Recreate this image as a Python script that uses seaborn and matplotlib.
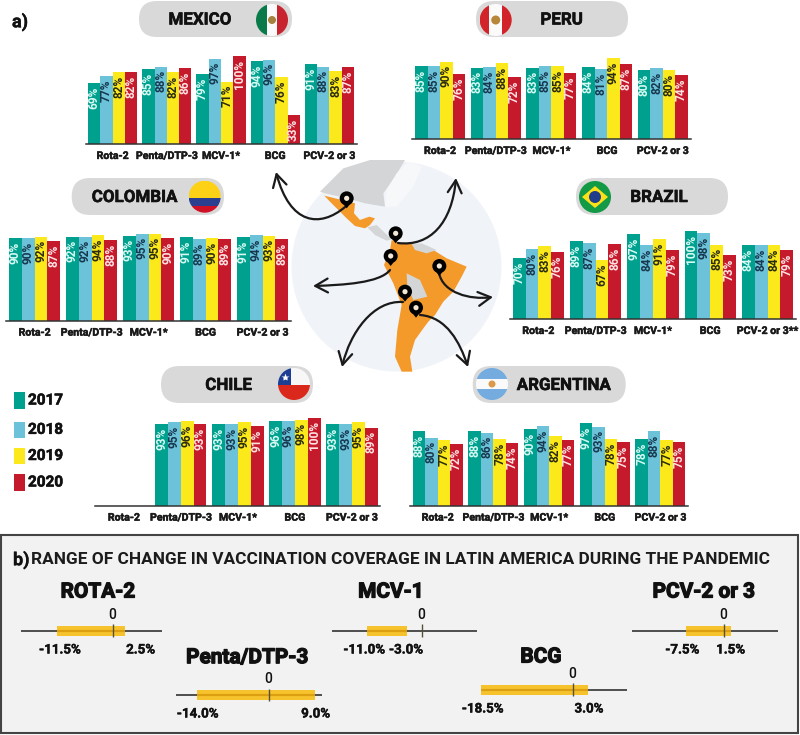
import numpy as np
import pandas as pd
import matplotlib
matplotlib.use("Agg")
import matplotlib.pyplot as plt
import matplotlib.patheffects as pe
from matplotlib.patches import Circle, FancyArrowPatch, FancyBboxPatch, Polygon, Rectangle
from matplotlib.path import Path
import seaborn as sns

W, H = 800, 735

vaccines = ["Rota-2", "Penta/DTP-3", "MCV-1*", "BCG", "PCV-2 or 3"]
vaccines_brazil = ["Rota-2", "Penta/DTP-3", "MCV-1*", "BCG", "PCV-2 or 3**"]
years = ["2017", "2018", "2019", "2020"]
colors = ["#00a08f", "#6cc3d9", "#fbe91b", "#c41a2c"]
label_colors = ["#d8fbf3", "#17384f", "#2b2b10", "#ffe3e3"]

# rows are years, columns are vaccines
mexico = [[69, 85, 79, 94, 91], [77, 88, 97, 96, 88], [82, 82, 71, 76, 83], [82, 86, 100, 33, 87]]
peru = [[85, 83, 83, 84, 80], [85, 84, 85, 81, 82], [90, 88, 85, 94, 80], [76, 72, 77, 87, 74]]
colombia = [[90, 92, 93, 91, 91], [90, 92, 95, 89, 94], [92, 94, 95, 90, 93], [87, 88, 90, 89, 89]]
brazil = [[70, 89, 97, 100, 84], [80, 87, 84, 98, 84], [83, 67, 91, 85, 84], [76, 86, 79, 73, 79]]
chile = [[np.nan, 93, 93, 96, 93], [np.nan, 95, 93, 96, 93], [np.nan, 96, 95, 98, 95], [np.nan, 93, 91, 100, 89]]
argentina = [[88, 88, 90, 97, 78], [80, 86, 94, 93, 88], [77, 78, 82, 78, 77], [72, 74, 77, 75, 75]]

range_names = ["ROTA-2", "Penta/DTP-3", "MCV-1", "BCG", "PCV-2 or 3"]
range_low = [-11.5, -14.0, -11.0, -18.5, -7.5]
range_high = [2.5, 9.0, -3.0, 3.0, 1.5]

BASE = "Roboto"
NARROW = ["Liberation Sans Narrow", "Roboto"]

fig = plt.figure(figsize=(W / 100, H / 100), dpi=100, facecolor="white")


def px_axes(left, top, right, bottom, **kw):
    return fig.add_axes([left / W, 1 - bottom / H, (right - left) / W, (bottom - top) / H], **kw)


# whole-figure axes in pixels for the decoration
bg = fig.add_axes([0, 0, 1, 1], zorder=0)
bg.set_xlim(0, W)
bg.set_ylim(H, 0)
bg.axis("off")


def txt(x, y, s, size, weight="bold", family=BASE, color="#111111", ha="center", stroke=0, **kw):
    t = bg.text(x, y, s, fontsize=size, fontweight=weight, family=family, color=color,
                ha=ha, va="center", zorder=8, **kw)
    if stroke:
        t.set_path_effects([pe.withStroke(linewidth=stroke, foreground=color)])
    return t


def z(pts):
    return [(x / 3 + 280, y / 3 + 150) for x, y in pts]


####map
bg.add_patch(Circle((396.5, 266.5), 105, fc="#f0f3f8", ec="none", zorder=1))
north = Polygon(z([(120, 125), (190, 55), (270, 30), (375, 30), (345, 80), (310, 130), (315, 170),
                   (255, 160), (220, 150), (180, 140), (135, 130)]), fc="#d4d5d6", ec="none", zorder=2)
bg.add_patch(north)
bg.add_patch(Polygon(z([(320, 120), (350, 70), (385, 35), (425, 50), (400, 110), (350, 170), (315, 170)]),
                     fc="#f7f8fa", ec="none", zorder=2))
bg.add_patch(Polygon(z([(262, 232), (290, 225), (335, 268), (320, 272), (285, 255)]),
                     fc="#d4d5d6", ec="none", zorder=2))
orange = "#f39a2b"
bg.add_patch(Polygon(z([(133, 137), (165, 145), (185, 150), (225, 160), (222, 190), (240, 210), (268, 200),
                        (285, 205), (270, 225), (255, 235), (225, 228), (200, 205), (175, 180), (150, 155)]),
                     fc=orange, ec="none", zorder=3))
bg.add_patch(Polygon(z([(335, 270), (360, 280), (395, 280), (420, 285), (460, 300), (500, 325), (560, 350),
                        (545, 380), (520, 425), (490, 455), (465, 495), (445, 515), (430, 535), (405, 570),
                        (390, 620), (397, 665), (365, 665), (345, 620), (352, 540), (365, 465), (340, 400),
                        (312, 345), (330, 300)]), fc=orange, ec="none", zorder=3))
bg.add_patch(Polygon(z([(380, 370), (420, 390), (442, 440), (400, 450), (382, 410)]),
                     fc="#d4d5d6", ec="none", zorder=3))
bg.add_patch(Polygon(z([(395, 282), (425, 280), (470, 300), (440, 310), (405, 300)]),
                     fc="#d4d5d6", ec="none", zorder=3))

arrows = [[(345, 207), (320, 228), (290, 225), (276, 172)],
          [(398, 243), (430, 247), (452, 223), (456, 178)],
          [(390, 270), (380, 283), (343, 285), (313, 286)],
          [(439, 273), (443, 293), (470, 300), (493, 297)],
          [(403, 302), (373, 300), (350, 333), (342, 367)],
          [(420, 315), (447, 317), (460, 343), (468, 367)]]
for a in arrows:
    p = Path(a, [Path.MOVETO, Path.CURVE4, Path.CURVE4, Path.CURVE4])
    bg.add_patch(FancyArrowPatch(path=p, arrowstyle="->,head_length=9,head_width=5", lw=1.6,
                                 color="#1a1a1a", zorder=5))

pins = [(200, 145), (347, 250), (332, 318), (478, 348), (375, 425), (408, 473)]
for x, y in z(pins):
    bg.add_patch(Polygon([(x - 6, y + 2.5), (x + 6, y + 2.5), (x, y + 10)], fc="black", ec="none", zorder=6))
    bg.add_patch(Circle((x, y), 7, fc="black", ec="none", zorder=6))
    bg.add_patch(Circle((x, y), 2.6, fc="#f4e7d5", ec="none", zorder=7))


####country pills and flags
def pill(left, right, top, bottom):
    h = bottom - top
    bg.add_patch(FancyBboxPatch((left, top), right - left, h,
                                boxstyle=f"round,pad=0,rounding_size={h / 2}",
                                fc="#d9d9d9", ec="none", zorder=1))


def flag(cx, cy, parts, r=16):
    clip = Circle((cx, cy), r, transform=bg.transData)
    for kind, a, b, c in parts:
        if kind == "v":
            p = Rectangle((cx + a * r, cy - r), (b - a) * r, 2 * r, fc=c, ec="none", zorder=3)
        else:
            p = Rectangle((cx - r, cy + a * r), 2 * r, (b - a) * r, fc=c, ec="none", zorder=3)
        bg.add_patch(p)
        p.set_clip_path(clip)


pills = [("MEXICO", 139, 292, 1, 37, 200, 272, 20),
         ("PERU", 476, 628, 1, 37, 561.7, 495.7, 20),
         ("COLOMBIA", 71.7, 224, 178, 215, 134.7, 204.7, 196.7),
         ("BRAZIL", 576, 728, 178, 215, 659, 595, 197),
         ("CHILE", 161, 313, 366, 403, 228.7, 294, 384),
         ("ARGENTINA", 472.7, 625.7, 366, 403, 563.7, 492, 384)]
flags = {"MEXICO": [("v", -1, -.33, "#0b7a4b"), ("v", -.33, .33, "#fafafa"), ("v", .33, 1, "#c8242f")],
         "PERU": [("v", -1, -.4, "#d2232a"), ("v", -.4, .4, "#fafafa"), ("v", .4, 1, "#d2232a")],
         "COLOMBIA": [("h", -1, .1, "#fcd116"), ("h", .1, .55, "#2a3f8f"), ("h", .55, 1, "#ce1126")],
         "BRAZIL": [("h", -1, 1, "#129a46")],
         "CHILE": [("h", -1, .05, "#f7f7f7"), ("h", .05, 1, "#da291c")],
         "ARGENTINA": [("h", -1, -.33, "#74acdf"), ("h", -.33, .33, "#fafafa"), ("h", .33, 1, "#74acdf")]}
for name, l, r, t, b, tx, fx, fy in pills:
    pill(l, r, t, b)
    flag(fx, fy, flags[name])
    txt(tx, (t + b) / 2 + 1, name, 12.2, stroke=.4)
bg.add_patch(Circle((272, 20), 4, fc="#a5803f", ec="none", zorder=4))
bg.add_patch(Circle((495.7, 20), 4.5, fc="#b8863a", ec="none", zorder=4))
bg.add_patch(Polygon([(595 - 13, 197), (595, 197 - 11), (595 + 13, 197), (595, 197 + 11)],
                     fc="#fde118", ec="none", zorder=4))
bg.add_patch(Circle((595, 197), 6, fc="#1f3d8a", ec="none", zorder=5))
bg.add_patch(Circle((492, 384), 3.5, fc="#d99a4a", ec="none", zorder=4))
c_rect = Rectangle((278, 368), 13, 16.8, fc="#1c3f94", ec="none", zorder=4)
bg.add_patch(c_rect)
c_rect.set_clip_path(Circle((294, 384), 16, transform=bg.transData))
bg.plot([284.5], [377], marker="*", ms=6, color="white", mec="none", zorder=5)


####bar charts
def bars(rows, names, bar_left, bar_w, step, base, scale):
    df = pd.DataFrame(rows, index=years, columns=names).rename_axis("year").reset_index()
    df = df.melt(id_vars="year", var_name="vaccine", value_name="coverage")
    margin = (step - 4 * bar_w) / 2
    ax = px_axes(bar_left - margin, base - 105 * scale, bar_left - margin + 5 * step, base)
    ax.patch.set_alpha(0)
    sns.barplot(data=df, x="vaccine", y="coverage", hue="year", order=names, hue_order=years,
                palette=colors, saturation=1, width=4 * bar_w / step, gap=0, legend=False, ax=ax)
    ax.set_xlim(-.5, 4.5)
    ax.set_ylim(0, 105)
    for cont, c in zip(ax.containers, label_colors):
        labs = ax.bar_label(cont, fmt="%g%%", rotation=90, padding=-2.5, fontsize=8.6, fontweight="bold",
                            family=NARROW, color=c)
        for lab in labs:
            lab.set_va("top")
    sns.despine(ax=ax, left=True)
    ax.spines["bottom"].set_color("#333333")
    ax.spines["bottom"].set_linewidth(1.1)
    ax.set_xlabel("")
    ax.set_ylabel("")
    ax.set_yticks([])
    ax.tick_params(axis="x", length=0, pad=5)
    for lab in ax.get_xticklabels():
        lab.set_fontsize(7.6)
        lab.set_fontweight("bold")
        lab.set_family("Roboto")
        lab.set_color("#1a1a1a")
        lab.set_path_effects([pe.withStroke(linewidth=.35, foreground="#1a1a1a")])
    return ax


bars(mexico, vaccines, 88, 12.3, 54.2, 144, .88)
bars(peru, vaccines, 415, 12.5, 55.7, 139, .86)
bars(colombia, vaccines, 9, 12.8, 57, 320.7, .915)
bars(brazil, vaccines_brazil, 512.7, 12.8, 57.3, 319, .876)
bars(chile, vaccines, 98.3, 12.8, 57, 505.7, .878)
bars(argentina, vaccines, 412.7, 12.5, 55.7, 505.7, .85)

txt(20, 22, "a)", 13, stroke=.3)

# year key
for y0, y1, yr, c in zip([392, 421.7, 448, 474], [409, 438, 464, 491], years, colors):
    bg.add_patch(Rectangle((14, y0), 11, y1 - y0, fc=c, ec="none", zorder=3))
    txt(28, (y0 + y1) / 2, yr, 11, family=NARROW, ha="left", stroke=.4)

####panel b
bg.add_patch(Rectangle((1, 535), 797, 198, fc="#f2f2f2", ec="#444444", lw=1.5, zorder=1))
txt(13, 560, "b)", 13, ha="left", stroke=.2)
txt(31, 560, "RANGE OF CHANGE IN VACCINATION COVERAGE IN LATIN AMERICA DURING THE PANDEMIC", 12.42,
    ha="left", color="#1c1c1c")

# zero px, px per point, line ends, y, title x/y, zero label y, label y, low label x, high label x
range_layout = [(112.7, 4.87, 21, 162, 630.7, 98, 591, 615, 650, 60, 140.7),
                (269, 5.15, 176, 321.7, 695, 247.5, 656.7, 679, 714, 197.7, 315.7),
                (422.3, 5.0, 331.7, 477, 630.7, 391, 591, 615, 650, 364.3, 406),
                (572.7, 5.02, 481, 626.7, 689.7, 541, 656, 673.7, 709, 482.7, 589),
                (723.7, 5.08, 632.3, 777.7, 630.7, 704, 591, 615, 650, 682.3, 730.7)]
for name, lo, hi, lay in zip(range_names, range_low, range_high, range_layout):
    x0, s, left, right, y, tx, ty, zy, ly, lx, hx = lay
    ax = px_axes(left, y - 8, right, y + 8, zorder=3)
    ax.set_xlim((left - x0) / s, (right - x0) / s)
    ax.set_ylim(-1, 1)
    ax.axis("off")
    ax.hlines(0, *ax.get_xlim(), color="#333333", lw=1.2, zorder=1)
    ax.fill_betweenx([-.62, .62], lo, hi, color="#f6c32d", lw=0, zorder=2)
    ax.hlines(0, lo, hi, color="#dd9f12", lw=1.6, zorder=3)
    ax.vlines(0, -.8, .8, color="#55503a", lw=1, zorder=4)
    txt(tx, ty + 1, name, 15, stroke=.9)
    txt(x0 - 1, zy, "0", 10, weight="medium")
    txt(lx, ly, f"-{abs(lo):.1f}%", 9.6, stroke=.3)
    txt(hx, ly, f"{'-' if hi < 0 else ''}{abs(hi):.1f}%", 9.6, stroke=.3)

fig.savefig("out.png", dpi=100)
